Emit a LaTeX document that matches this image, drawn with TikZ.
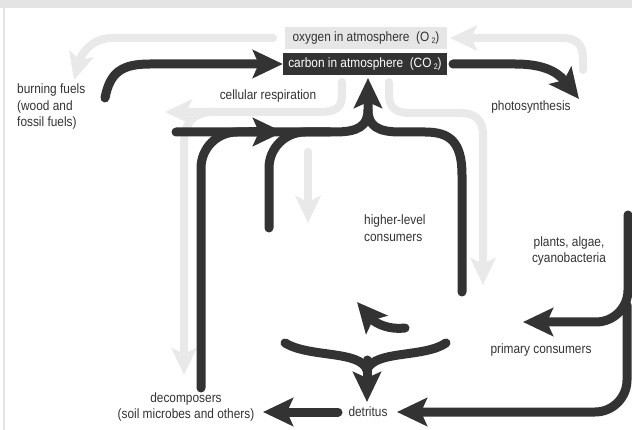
\documentclass[tikz,border=0pt]{standalone}
\usepackage{fontspec}
\setmainfont{Liberation Sans}[FakeStretch=0.88]
\usetikzlibrary{arrows.meta}
\definecolor{dk}{HTML}{333333}
\definecolor{lg}{HTML}{E9E9E9}
\definecolor{framec}{HTML}{E4E4E4}
\definecolor{oxfill}{HTML}{E6E6E6}
\begin{document}
\begin{tikzpicture}[x=1pt,y=-1pt,
  blk/.style={draw=dk,line width=9pt,line cap=round},
  blkarr/.style={blk,-{Stealth[length=30pt,width=28pt,inset=6pt]}},
  gry/.style={draw=lg,line width=8pt,line cap=round},
  gryarr/.style={gry,-{Stealth[length=27pt,width=25pt,inset=6pt]}},
  lbl/.style={text=dk,font=\fontsize{13.5}{16.5}\selectfont,inner sep=0pt}]
\useasboundingbox (0,0) rectangle (632,430);
\fill[white] (0,0) rectangle (632,430);
\fill[framec] (0,0) rectangle (632,8);
\fill[framec] (3,8) rectangle (5,430);

% labels
\node[lbl,fill=oxfill,minimum width=162pt,minimum height=22pt] (oxy) at (366,38) {oxygen in atmosphere\ \ (O\,\raisebox{-0.35ex}{\footnotesize 2})};
\node[lbl,fill=dk,text=white,minimum width=164pt,minimum height=22pt] (co2) at (365,64) {carbon in atmosphere\ \ (CO\,\raisebox{-0.35ex}{\footnotesize 2})};
\node[lbl,align=left,anchor=west] (fuel) at (17,107) {burning fuels\\(wood and\\fossil fuels)};
\node[lbl] (resp) at (268,96) {cellular respiration};
\node[lbl] (photo) at (531,107) {photosynthesis};
\node[lbl,align=left,anchor=west] (higher) at (364,228) {higher-level\\consumers};
\node[lbl,align=center] (plants) at (569,251) {plants, algae,\\cyanobacteria};
\node[lbl] (primary) at (541,350) {primary consumers};
\node[lbl,align=center] (decomp) at (186,407) {decomposers\\(soil microbes and others)};
\node[lbl] (detritus) at (368,412) {detritus};

% free ends
\coordinate (a0) at (105,98);
\coordinate (b0) at (453,64);
\coordinate (bt) at (579,99);
\coordinate (c0) at (273,38);
\coordinate (ct) at (74,80);
\coordinate (d0) at (583,70);
\coordinate (dt) at (450,38);
\coordinate (e0) at (342,82);
\coordinate (et) at (165,112);
\coordinate (e2t) at (184,375);
\coordinate (f0) at (389,82);
\coordinate (ft) at (483,285);
\coordinate (g0) at (308,152);
\coordinate (gt) at (308,223);
\coordinate (h0) at (176,132);
\coordinate (ht) at (368,78);
\coordinate (i0) at (201,388);
\coordinate (j0) at (269,228);
\coordinate (k0) at (462,292);
\coordinate (jn) at (368,110);
\coordinate (l1) at (285,343);
\coordinate (l2) at (446,343);
\coordinate (lm) at (367,370);
\coordinate (lt) at (367,402);
\coordinate (m0) at (405,328);
\coordinate (mt) at (357,302);
\coordinate (n0) at (628,215);
\coordinate (nt) at (523,322);
\coordinate (o0) at (627,305);
\coordinate (ot) at (397,412);
\coordinate (p0) at (338,412);
\coordinate (pt) at (263,412);

% grey connectors
\draw[gryarr] (c0) -- (112,38) .. controls (93,38) and (82,52) .. (ct);
\draw[gryarr] (d0) -- (583,58) .. controls (583,44) and (576,38) .. (562,38) -- (dt);
\draw[gryarr] (e0) -- (342,95) .. controls (342,108) and (335,112) .. (320,112) -- (et);
\draw[gryarr] (215,112) .. controls (195,112) and (184,120) .. (184,145) -- (e2t);
\draw[gryarr] (f0) -- (389,95) .. controls (389,108) and (396,113) .. (410,113) -- (460,113) .. controls (475,113) and (483,120) .. (483,135) -- (ft);
\draw[gryarr] (g0) -- (gt);

% black connectors
\draw[blkarr] (a0) .. controls (110,72) and (122,64) .. (150,64) -- (co2.west);
\draw[blkarr] (b0) -- (515,64) .. controls (540,64) and (556,70) .. (bt);
\draw[blk,rounded corners=36pt] (i0) -- (201,132) -- (262,132);
\draw[blk,rounded corners=36pt] (j0) -- (269,132) -- (330,132);
\draw[blk] (k0) -- (462,175) .. controls (462,142) and (450,132) .. (425,132) -- (400,132) .. controls (378,132) and (368,126) .. (jn);
\draw[blkarr] (h0) -- (335,132) .. controls (358,132) and (368,126) .. (jn) -- (ht);
\draw[blkarr] (250,132) -- (283,132);
\draw[blk] (l1) .. controls (310,358) and (360,350) .. (lm);
\draw[blk] (l2) .. controls (424,358) and (374,350) .. (lm);
\draw[blkarr] (367,360) -- (lt);
\draw[blkarr] (m0) .. controls (390,330) and (376,324) .. (mt);
\draw[blkarr,rounded corners=32pt] (n0) -- (628,322) -- (nt);
\draw[blkarr,rounded corners=32pt] (o0) -- (627,412) -- (ot);
\draw[blkarr] (p0) -- (pt);
\end{tikzpicture}
\end{document}
